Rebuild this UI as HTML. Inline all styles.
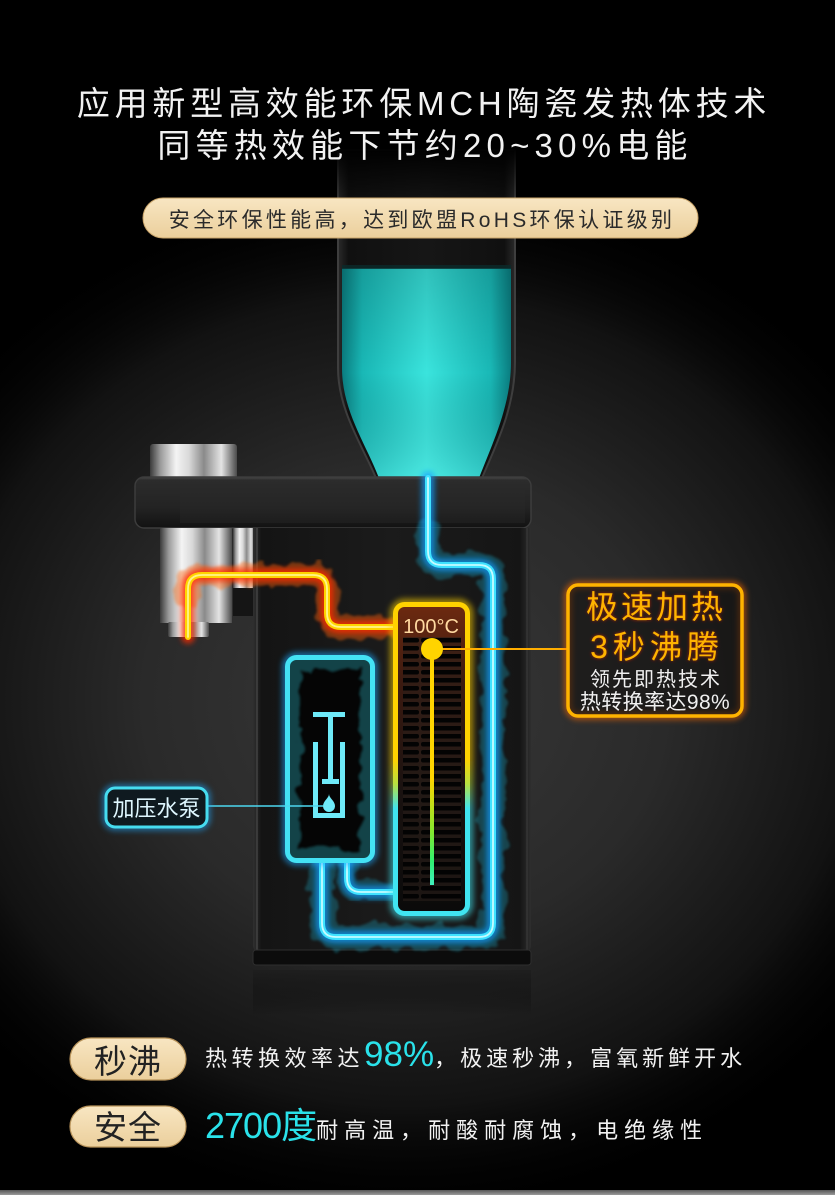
<!DOCTYPE html>
<html><head><meta charset="utf-8">
<style>
html,body{margin:0;padding:0;background:#000;}
body{width:835px;height:1195px;overflow:hidden;position:relative;}
svg{position:absolute;left:0;top:0;display:block;}
text{font-family:"Liberation Sans","Noto Sans CJK SC",sans-serif;}
</style></head><body>
<svg width="835" height="1195" viewBox="0 0 835 1195" xmlns="http://www.w3.org/2000/svg">
<defs>
  <radialGradient id="bgG" cx="0.5" cy="0.5" r="0.5">
    <stop offset="0" stop-color="#383838"/>
    <stop offset="0.45" stop-color="#2a2a2a"/>
    <stop offset="0.78" stop-color="#121212"/>
    <stop offset="1" stop-color="#000" stop-opacity="0"/>
  </radialGradient>
  <linearGradient id="chrome" x1="0" y1="0" x2="1" y2="0">
    <stop offset="0" stop-color="#3a3a3a"/>
    <stop offset="0.12" stop-color="#9a9a9a"/>
    <stop offset="0.3" stop-color="#f4f4f4"/>
    <stop offset="0.45" stop-color="#d8d8d8"/>
    <stop offset="0.62" stop-color="#8a8a8a"/>
    <stop offset="0.82" stop-color="#e4e4e4"/>
    <stop offset="1" stop-color="#4a4a4a"/>
  </linearGradient>
  <linearGradient id="lidG" x1="0" y1="0" x2="0" y2="1">
    <stop offset="0" stop-color="#4a4a4a"/>
    <stop offset="0.06" stop-color="#2c2c2c"/>
    <stop offset="0.6" stop-color="#232323"/>
    <stop offset="1" stop-color="#121212"/>
  </linearGradient>
  <linearGradient id="bodyG" x1="0" y1="0" x2="1" y2="0">
    <stop offset="0" stop-color="#303030"/>
    <stop offset="0.03" stop-color="#141414"/>
    <stop offset="0.5" stop-color="#1b1b1b"/>
    <stop offset="0.96" stop-color="#151515"/>
    <stop offset="1" stop-color="#2e2e2e"/>
  </linearGradient>
  <linearGradient id="reflG" x1="0" y1="0" x2="0" y2="1">
    <stop offset="0" stop-color="#1e1e1e"/>
    <stop offset="1" stop-color="#000" stop-opacity="0"/>
  </linearGradient>
  <linearGradient id="bottleG" x1="0" y1="0" x2="1" y2="0">
    <stop offset="0" stop-color="#2a2a2a"/>
    <stop offset="0.06" stop-color="#101010"/>
    <stop offset="0.5" stop-color="#161616"/>
    <stop offset="0.94" stop-color="#101010"/>
    <stop offset="1" stop-color="#2a2a2a"/>
  </linearGradient>
  <linearGradient id="bottleFade" x1="0" y1="0" x2="0" y2="1">
    <stop offset="0" stop-color="#000" stop-opacity="1"/>
    <stop offset="1" stop-color="#000" stop-opacity="0"/>
  </linearGradient>
  <linearGradient id="waterG" x1="0" y1="0" x2="1" y2="0">
    <stop offset="0" stop-color="#0a7d80"/>
    <stop offset="0.12" stop-color="#19b8b6"/>
    <stop offset="0.5" stop-color="#3ae4dd"/>
    <stop offset="0.88" stop-color="#19b8b6"/>
    <stop offset="1" stop-color="#0a7d80"/>
  </linearGradient>
  <linearGradient id="waterV" x1="0" y1="0" x2="0" y2="1">
    <stop offset="0" stop-color="#000" stop-opacity="0.15"/>
    <stop offset="0.5" stop-color="#000" stop-opacity="0"/>
    <stop offset="1" stop-color="#7ffcf5" stop-opacity="0.25"/>
  </linearGradient>
  <linearGradient id="heatStroke" x1="0" y1="604" x2="0" y2="914" gradientUnits="userSpaceOnUse">
    <stop offset="0" stop-color="#ffd200"/>
    <stop offset="0.5" stop-color="#ffd200"/>
    <stop offset="0.58" stop-color="#b8e040"/>
    <stop offset="0.66" stop-color="#40e4f0"/>
    <stop offset="1" stop-color="#40e4f0"/>
  </linearGradient>
  <linearGradient id="heatFill" x1="0" y1="0" x2="0" y2="1">
    <stop offset="0" stop-color="#6e2a10"/>
    <stop offset="0.25" stop-color="#3c1a10"/>
    <stop offset="0.6" stop-color="#1a1210"/>
    <stop offset="1" stop-color="#0a0a0a"/>
  </linearGradient>
  <linearGradient id="lineG" x1="0" y1="649" x2="0" y2="885" gradientUnits="userSpaceOnUse">
    <stop offset="0" stop-color="#ffd400"/>
    <stop offset="0.55" stop-color="#ffd400"/>
    <stop offset="0.78" stop-color="#80e830"/>
    <stop offset="0.9" stop-color="#30f070"/>
    <stop offset="1" stop-color="#40f0c0"/>
  </linearGradient>
  <linearGradient id="pillG" x1="0" y1="0" x2="0" y2="1">
    <stop offset="0" stop-color="#f8e6c2"/>
    <stop offset="1" stop-color="#ebcf9c"/>
  </linearGradient>
  <linearGradient id="bottomLine" x1="0" y1="0" x2="0" y2="1">
    <stop offset="0" stop-color="#555"/>
    <stop offset="1" stop-color="#9a9a9a"/>
  </linearGradient>
  <pattern id="stripes" x="0" y="637" width="60" height="8" patternUnits="userSpaceOnUse">
    <rect x="0" y="0" width="60" height="8" fill="#2a1e1a" opacity="0.55"/>
    <rect x="1" y="1" width="58" height="4.5" rx="2" fill="#030303"/>
  </pattern>
  <filter id="blur3" x="-50%" y="-50%" width="200%" height="200%"><feGaussianBlur stdDeviation="3"/></filter>
  <filter id="blur5" x="-50%" y="-50%" width="200%" height="200%"><feGaussianBlur stdDeviation="5"/></filter>
  <filter id="smoke" x="-30%" y="-30%" width="160%" height="160%">
    <feTurbulence type="fractalNoise" baseFrequency="0.07" numOctaves="2" seed="3" result="n"/>
    <feDisplacementMap in="SourceGraphic" in2="n" scale="16" xChannelSelector="R" yChannelSelector="G" result="d"/>
    <feGaussianBlur in="d" stdDeviation="1.2"/>
  </filter>
  <filter id="txtGlow" x="-20%" y="-30%" width="140%" height="160%">
    <feDropShadow dx="0" dy="0" stdDeviation="1.6" flood-color="#c02000" flood-opacity="0.9"/>
  </filter>
  <clipPath id="pumpClip"><rect x="290" y="660" width="80" height="198" rx="6"/></clipPath>
  <clipPath id="heatClip"><rect x="398" y="607" width="67" height="304" rx="6"/></clipPath>
</defs>

<!-- background -->
<rect x="0" y="0" width="835" height="1195" fill="#000"/>
<ellipse cx="405" cy="700" rx="580" ry="520" fill="url(#bgG)"/>
<rect x="0" y="1190" width="835" height="5" fill="url(#bottomLine)"/>

<!-- bottle -->
<path d="M338,150 L338,368 C338,410 362,445 376,478 L482,478 C496,445 515,408 515,362 L515,150 Z" fill="url(#bottleG)" stroke="#3e3e3e" stroke-width="2"/>
<path d="M342,268 L511,268 L511,362 C511,405 493,442 479,478 L379,478 C365,442 342,410 342,368 Z" fill="url(#waterG)"/>
<path d="M342,268 L511,268 L511,362 C511,405 493,442 479,478 L379,478 C365,442 342,410 342,368 Z" fill="url(#waterV)"/>
<rect x="342" y="265" width="169" height="4" fill="#0b2a2a" opacity="0.8"/>
<rect x="330" y="148" width="195" height="60" fill="url(#bottleFade)"/>

<!-- faucet top knob -->
<rect x="150" y="444" width="87" height="35" rx="3" fill="url(#chrome)"/>
<!-- lid -->
<rect x="135" y="477" width="396" height="51" rx="9" fill="url(#lidG)" stroke="#3c3c3c" stroke-width="1.5"/>
<rect x="180" y="483" width="345" height="40" fill="#2a2a2a" opacity="0.35"/>
<!-- faucet lower -->
<rect x="233" y="528" width="22" height="60" fill="url(#chrome)"/>
<rect x="233" y="588" width="22" height="28" fill="#151515"/>
<rect x="160" y="528" width="72" height="95" fill="url(#chrome)"/>
<rect x="168" y="622" width="41" height="15" rx="2" fill="url(#chrome)"/>
<!-- body -->
<path d="M253,528 L531,528 L531,945 Q531,952 524,952 L260,952 Q253,952 253,945 Z" fill="url(#bodyG)"/>
<line x1="257" y1="528" x2="257" y2="950" stroke="#4a4a4a" stroke-width="1.2"/>
<line x1="527" y1="528" x2="527" y2="950" stroke="#3a3a3a" stroke-width="1.2"/>
<rect x="253" y="950" width="278" height="15" rx="3" fill="#0c0c0c" stroke="#2e2e2e" stroke-width="1"/>
<rect x="253" y="970" width="278" height="45" fill="url(#reflG)" opacity="0.8"/>

<!-- smoke -->
<g fill="none" stroke-linecap="round" stroke-linejoin="round">
  <path d="M428,530 L428,551 Q428,565 442,565 L479,565 Q493,565 493,579 L493,923 Q493,937 479,937 L336,937 Q322,937 322,923 L322,862" stroke="#1fb0cc" stroke-width="24" opacity="0.3" filter="url(#smoke)"/>
  <path d="M347,862 L347,878 Q347,892 361,892 L393,892" stroke="#1fb0cc" stroke-width="20" opacity="0.26" filter="url(#smoke)"/>
  <path d="M188,600 L188,589 Q188,575 202,575 L313,575 Q327,575 327,589 L327,613 Q327,627 341,627 L393,627" stroke="#ff6a10" stroke-width="22" opacity="0.4" filter="url(#smoke)"/>
</g>
<!-- glow + cores -->
<g fill="none" stroke-linecap="round" stroke-linejoin="round">
  <path d="M428,478 L428,551 Q428,565 442,565 L479,565 Q493,565 493,579 L493,923 Q493,937 479,937 L336,937 Q322,937 322,923 L322,862" stroke="#0c9cff" stroke-width="13" opacity="0.7" filter="url(#blur3)"/>
  <path d="M347,862 L347,878 Q347,892 361,892 L393,892" stroke="#0c9cff" stroke-width="13" opacity="0.7" filter="url(#blur3)"/>
  <path d="M428,478 L428,551 Q428,565 442,565 L479,565 Q493,565 493,579 L493,923 Q493,937 479,937 L336,937 Q322,937 322,923 L322,862" stroke="#3fe2ff" stroke-width="6"/>
  <path d="M347,862 L347,878 Q347,892 361,892 L393,892" stroke="#3fe2ff" stroke-width="6"/>
  <path d="M428,478 L428,551 Q428,565 442,565 L479,565 Q493,565 493,579 L493,923 Q493,937 479,937 L336,937 Q322,937 322,923 L322,862" stroke="#c4fbff" stroke-width="1.8"/>
  <path d="M347,862 L347,878 Q347,892 361,892 L393,892" stroke="#c4fbff" stroke-width="1.8"/>
  <path d="M188,637 L188,589 Q188,575 202,575 L313,575 Q327,575 327,589 L327,613 Q327,627 341,627 L393,627" stroke="#ff2a00" stroke-width="13" opacity="0.8" filter="url(#blur3)"/>
  <path d="M188,637 L188,589 Q188,575 202,575 L313,575 Q327,575 327,589 L327,613 Q327,627 341,627 L393,627" stroke="#ffd400" stroke-width="6"/>
  <path d="M188,637 L188,589 Q188,575 202,575 L313,575 Q327,575 327,589 L327,613 Q327,627 341,627 L393,627" stroke="#fff48a" stroke-width="1.8"/>
</g>

<!-- pump box -->
<rect x="287.5" y="657.5" width="85" height="203" rx="9" fill="none" stroke="#1aa8ff" stroke-width="11" opacity="0.55" filter="url(#blur3)"/>
<rect x="287.5" y="657.5" width="85" height="203" rx="9" fill="#050505" stroke="#44e2f4" stroke-width="5"/>
<g clip-path="url(#pumpClip)">
  <rect x="292" y="662" width="76" height="194" rx="6" fill="none" stroke="#2fb8c6" stroke-width="16" opacity="0.35" filter="url(#smoke)"/>
</g>
<g fill="#6eeaf8">
  <rect x="313" y="712" width="32" height="5"/>
  <rect x="328" y="712" width="5" height="70"/>
  <rect x="322" y="779" width="17" height="5"/>
  <rect x="313" y="742" width="5" height="76"/>
  <rect x="340" y="742" width="5" height="76"/>
  <rect x="313" y="813" width="32" height="5"/>
  <path d="M329,794 C329,798 335,801 335,806 A6,6 0 1 1 323,806 C323,801 329,798 329,794 Z"/>
</g>

<!-- heater box -->
<rect x="395.5" y="604.5" width="72" height="309" rx="9" fill="none" stroke="url(#heatStroke)" stroke-width="12" opacity="0.55" filter="url(#blur3)"/>
<rect x="395.5" y="604.5" width="72" height="309" rx="9" fill="url(#heatFill)"/>
<g clip-path="url(#heatClip)">
  <rect x="403" y="637" width="58" height="264" fill="url(#stripes)"/>
  <path d="M432,670 L432,880" stroke="url(#lineG)" stroke-width="18" opacity="0.35" fill="none" filter="url(#smoke)"/>
</g>
<rect x="395.5" y="604.5" width="72" height="309" rx="9" fill="none" stroke="url(#heatStroke)" stroke-width="5"/>
<text x="431" y="633" font-size="20" fill="#ffd9a0" text-anchor="middle">100°C</text>
<line x1="432" y1="649" x2="432" y2="885" stroke="url(#lineG)" stroke-width="8" opacity="0.5" filter="url(#blur3)"/>
<line x1="432" y1="649" x2="432" y2="885" stroke="url(#lineG)" stroke-width="4"/>
<line x1="432" y1="649" x2="569" y2="649" stroke="#ffae00" stroke-width="2"/>
<circle cx="432" cy="649" r="11" fill="#ffd400"/>

<!-- callout -->
<rect x="568" y="585" width="174" height="131" rx="10" fill="none" stroke="#ff6a00" stroke-width="8" opacity="0.55" filter="url(#blur3)"/>
<rect x="568" y="585" width="174" height="131" rx="10" fill="#141210" fill-opacity="0.6" stroke="#ffb300" stroke-width="3.5"/>
<g filter="url(#txtGlow)" fill="#ffb300" text-anchor="middle">
  <text x="656" y="618" font-size="32" style="letter-spacing:3px">极速加热</text>
  <text x="657" y="658" font-size="32" style="letter-spacing:5px">3秒沸腾</text>
</g>
<text x="656" y="686" font-size="20" fill="#f0f0f0" text-anchor="middle" style="letter-spacing:2px">领先即热技术</text>
<text x="655" y="709" font-size="21" fill="#f0f0f0" text-anchor="middle" style="letter-spacing:0.4px">热转换率达98%</text>

<!-- pump label -->
<line x1="207" y1="806" x2="323" y2="806" stroke="#4cd8f0" stroke-width="1.6"/>
<rect x="106" y="788" width="101" height="39" rx="9" fill="none" stroke="#1aa8ff" stroke-width="8" opacity="0.5" filter="url(#blur3)"/>
<rect x="106" y="788" width="101" height="39" rx="9" fill="#0f1a20" stroke="#46dcf0" stroke-width="3"/>
<text x="156.5" y="816" font-size="22" fill="#dff7ff" text-anchor="middle">加压水泵</text>

<!-- title -->
<text x="424" y="115" font-size="33" fill="#f2f2f2" text-anchor="middle" style="letter-spacing:4.8px">应用新型高效能环保MCH陶瓷发热体技术</text>
<text x="425" y="157" font-size="33" fill="#f2f2f2" text-anchor="middle" style="letter-spacing:5.2px">同等热效能下节约20~30%电能</text>

<!-- top pill -->
<rect x="143" y="198" width="555" height="40" rx="20" fill="url(#pillG)" stroke="#c9a46a" stroke-width="1"/>
<text x="422" y="227" font-size="21" fill="#2a2a2a" text-anchor="middle" style="letter-spacing:3.3px">安全环保性能高，达到欧盟RoHS环保认证级别</text>

<!-- bottom rows -->
<rect x="70" y="1038" width="116" height="42" rx="21" fill="url(#pillG)" stroke="#b8935a" stroke-width="1.2"/>
<text x="128" y="1073" font-size="33" fill="#222" text-anchor="middle" style="letter-spacing:1px">秒沸</text>
<text x="205" y="1066" fill="#f2f2f2"><tspan font-size="22" style="letter-spacing:4.5px">热转换效率达</tspan><tspan font-size="35" fill="#2ae2ea" style="letter-spacing:0px">98%</tspan><tspan font-size="22" style="letter-spacing:4px">，极速秒沸，富氧新鲜开水</tspan></text>

<rect x="70" y="1106" width="116" height="41" rx="20.5" fill="url(#pillG)" stroke="#b8935a" stroke-width="1.2"/>
<text x="128" y="1139" font-size="33" fill="#222" text-anchor="middle" style="letter-spacing:1px">安全</text>
<text x="205" y="1138" fill="#f2f2f2"><tspan font-size="36" fill="#2ae2ea" style="letter-spacing:-1px">2700度</tspan><tspan font-size="22" style="letter-spacing:6px">耐高温，耐酸耐腐蚀，电绝缘性</tspan></text>
</svg>
</body></html>
